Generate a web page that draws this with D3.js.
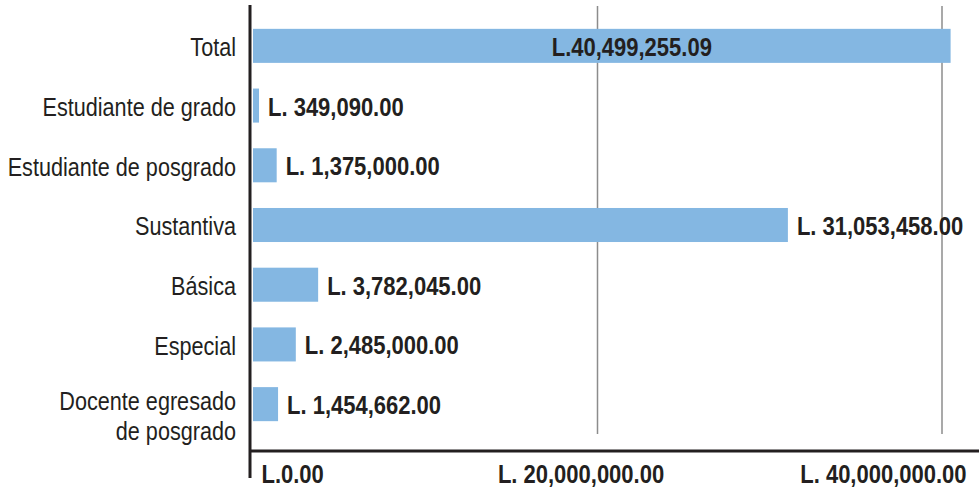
<!DOCTYPE html>
<html>
<head>
<meta charset="utf-8">
<script src="https://cdn.jsdelivr.net/npm/d3@7"></script>
<style>
  body { margin: 0; background: #fff; }
  svg { display: block; }
  text { font-family: "Liberation Sans", Arial, sans-serif; fill: #231f20; }
</style>
</head>
<body>
<script>
var w = 979;
var h = 489;

// data
var categories = ["Total", "Estudiante de grado", "Estudiante de posgrado", "Sustantiva", "Básica", "Especial", "Docente egresado\nde posgrado"];
var values = [40499255.09, 349090, 1375000, 31053458, 3782045, 2485000, 1454662];
var valuePrefix = ["L.", "L. ", "L. ", "L. ", "L. ", "L. ", "L. "];
var tickValues = [0, 20000000, 40000000];
var tickLabels = ["L.0.00", "L. 20,000,000.00", "L. 40,000,000.00"];

var fmt = d3.format(",.2f");

// narrow look: squeeze the font horizontally
var sxBold = 0.88;
var sxReg = 0.865;

var svg = d3.select("body")
  .append("svg")
  .attr("width", w)
  .attr("height", h);

var x = d3.scaleLinear()
  .domain([0, 40000000])
  .range([253, 942]);

var y = d3.scaleBand()
  .domain(categories)
  .range([16, 434])
  .paddingInner(0.43)
  .paddingOuter(0.215);

// gridlines (behind bars)
svg.selectAll("line.grid")
  .data(tickValues.slice(1))
  .enter()
  .append("line")
  .attr("class", "grid")
  .attr("x1", function(d) { return x(d); })
  .attr("x2", function(d) { return x(d); })
  .attr("y1", 6)
  .attr("y2", 434)
  .attr("stroke", "#8c8c8c")
  .attr("stroke-width", 1.5);

// bars
svg.selectAll("rect")
  .data(values)
  .enter()
  .append("rect")
  .attr("x", x(0))
  .attr("y", function(d, i) { return y(categories[i]); })
  .attr("width", function(d) { return x(d) - x(0); })
  .attr("height", y.bandwidth())
  .attr("fill", "#84b7e2");

// value labels
svg.selectAll("text.val")
  .data(values)
  .enter()
  .append("text")
  .attr("class", "val")
  .text(function(d, i) { return valuePrefix[i] + fmt(d); })
  .attr("text-anchor", function(d, i) { return i === 0 ? "middle" : "start"; })
  .attr("transform", "scale(" + sxBold + ",1)")
  .attr("x", function(d, i) {
    if (i === 0) return ((x(0) + x(d)) / 2 + 30) / sxBold;
    return (x(d) + 9) / sxBold;
  })
  .attr("y", function(d, i) { return y(categories[i]) + y.bandwidth() / 2; })
  .attr("dy", "0.4em")
  .attr("font-size", "25px")
  .attr("font-weight", "bold");

// category labels
var cat = svg.selectAll("text.cat")
  .data(categories)
  .enter()
  .append("text")
  .attr("class", "cat")
  .attr("text-anchor", "end")
  .attr("font-size", "25px")
  .attr("transform", "scale(" + sxReg + ",1)")
  .attr("y", function(d) { return y(d) + y.bandwidth() / 2; });

cat.each(function(d) {
  var lines = d.split("\n");
  var t = d3.select(this);
  lines.forEach(function(s, k) {
    t.append("tspan")
      .attr("x", 236 / sxReg)
      .attr("dy", k === 0 ? (lines.length > 1 ? "0.22em" : "0.42em") : "1.2em")
      .text(s);
  });
});

// x axis
var xAxis = d3.axisBottom(x)
  .tickValues(tickValues)
  .tickSize(0)
  .tickPadding(14)
  .tickFormat(function(d, i) { return tickLabels[i]; });

var gx = svg.append("g")
  .attr("transform", "translate(0,451)")
  .call(xAxis);

gx.select(".domain").remove();
gx.selectAll("text")
  .attr("font-size", "25px")
  .attr("font-weight", "bold")
  .attr("font-family", null)
  .attr("fill", "#231f20")
  .attr("transform", "scale(" + sxBold + ",1)")
  .attr("text-anchor", function(d, i) { return i === 0 ? "start" : (i === 1 ? "middle" : "end"); })
  .attr("x", function(d, i) { return [8, -17, 24][i] / sxBold; });

svg.append("line")
  .attr("x1", 251).attr("x2", w)
  .attr("y1", 451).attr("y2", 451)
  .attr("stroke", "#231f20")
  .attr("stroke-width", 3);

svg.append("line")
  .attr("x1", 250).attr("x2", 250)
  .attr("y1", 5).attr("y2", 478)
  .attr("stroke", "#231f20")
  .attr("stroke-width", 3);
</script>
</body>
</html>
